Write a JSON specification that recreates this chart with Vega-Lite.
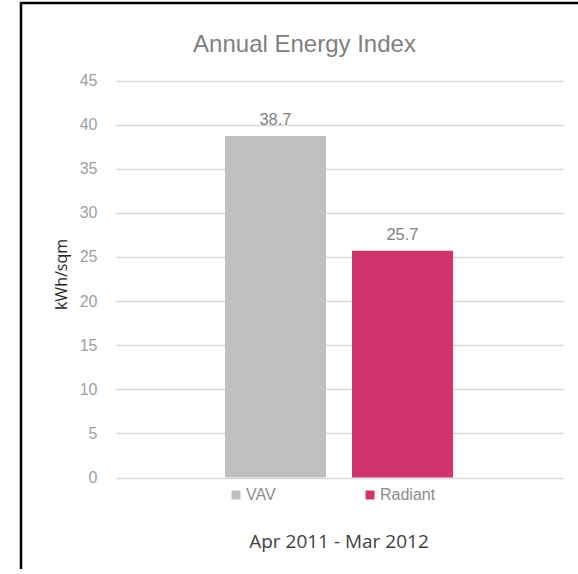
{
  "$schema": "https://vega.github.io/schema/vega-lite/v6.json",
  "width": 580,
  "height": 590,
  "autosize": {"type": "none"},
  "padding": {"left": 21, "top": 3, "right": -23, "bottom": -24},
  "background": "white",
  "config": {"font": "Liberation Sans"},
  "view": {"stroke": "#000000", "strokeWidth": 2.5, "strokeDash": [580, 1170, 590], "fill": null},
  "title": {
    "text": "Annual Energy Index",
    "orient": "top",
    "anchor": "middle",
    "frame": "group",
    "baseline": "alphabetic",
    "offset": -73,
    "dx": -6.5,
    "fontSize": 24,
    "fontWeight": "normal",
    "font": "Liberation Sans",
    "color": "#7f7f7f"
  },
  "data": {
    "values": [
      {"period": "Apr 2011 - Mar 2012", "system": "VAV", "kwh": 38.7},
      {"period": "Apr 2011 - Mar 2012", "system": "Radiant", "kwh": 25.7}
    ]
  },
  "encoding": {
    "x": {
      "field": "period",
      "type": "nominal",
      "scale": {"paddingInner": 0, "paddingOuter": 0.77193, "align": 0.5795},
      "axis": {
        "title": null,
        "domain": false,
        "ticks": false,
        "labelAngle": 0,
        "labelLimit": 0,
        "labelPadding": 0,
        "offset": -61,
        "labelFont": "Open Sans",
        "labelFontSize": 19,
        "labelColor": "#404040"
      }
    },
    "xOffset": {
      "field": "system",
      "type": "nominal",
      "sort": ["VAV", "Radiant"],
      "scale": {"paddingInner": 0.205, "paddingOuter": 0}
    },
    "y": {
      "field": "kwh",
      "type": "quantitative",
      "scale": {"domain": [-13.092, 53.785], "nice": false},
      "axis": {
        "values": [0, 5, 10, 15, 20, 25, 30, 35, 40, 45],
        "offset": -80,
        "title": "kWh/sqm",
        "titleFont": "Open Sans",
        "titleFontSize": 16,
        "titleFontWeight": "normal",
        "titleColor": "#262626",
        "titlePadding": 10,
        "titleY": 271,
        "labelFontSize": 16,
        "labelColor": "#a0a0a0",
        "labelPadding": 4,
        "ticks": false,
        "tickSize": 0,
        "domain": false,
        "grid": true,
        "gridColor": "#d9d9d9",
        "gridWidth": 1.5,
        "gridDash": [0, 94, 448, 200]
      }
    }
  },
  "layer": [
    {
      "mark": {"type": "bar"},
      "encoding": {
        "y2": {"datum": 0},
        "color": {
          "field": "system",
          "type": "nominal",
          "scale": {"domain": ["VAV", "Radiant"], "range": ["#bfbfbf", "#cf356c"]},
          "legend": {
            "orient": "none",
            "legendX": 207,
            "legendY": 484,
            "direction": "horizontal",
            "title": null,
            "symbolType": "square",
            "symbolSize": 81,
            "symbolStrokeWidth": 0,
            "symbolOpacity": 1,
            "labelFontSize": 16,
            "labelColor": "#8c8c8c",
            "labelOffset": 2,
            "columnPadding": 86,
            "padding": 0
          }
        }
      }
    },
    {
      "mark": {"type": "text", "baseline": "alphabetic", "dy": -11, "fontSize": 16.5, "color": "#7f7f7f"},
      "encoding": {
        "text": {"field": "kwh", "type": "quantitative", "format": ".1f"}
      }
    }
  ]
}
